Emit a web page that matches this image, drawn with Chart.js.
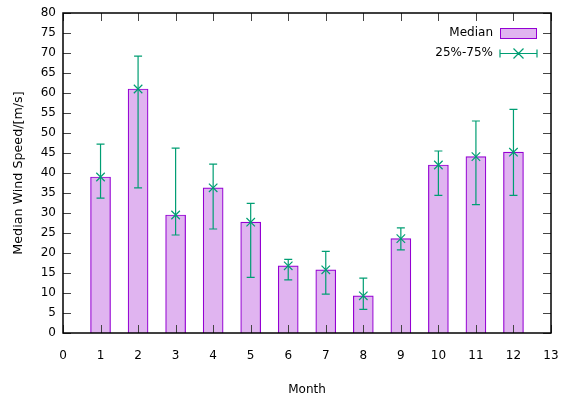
<!DOCTYPE html>
<html>
<head>
<meta charset="utf-8">
<script src="https://cdn.jsdelivr.net/npm/chart.js@4/dist/chart.umd.min.js"></script>
<style>
  html, body { margin: 0; padding: 0; background: #fff; }
  #wrap { width: 568px; height: 398px; }
</style>
</head>
<body>
<div id="wrap"><canvas id="graph" width="568" height="398"></canvas></div>
<script>
const months = [1, 2, 3, 4, 5, 6, 7, 8, 9, 10, 11, 12];
const median = [39, 61, 29.5, 36.3, 27.7, 16.8, 15.8, 9.3, 23.6, 42, 44.1, 45.2];
const q25 = [33.7, 36.3, 24.5, 26, 13.9, 13.3, 9.7, 5.9, 20.8, 34.4, 32.1, 34.4];
const q75 = [47.2, 69.2, 46.2, 42.2, 32.4, 18.4, 20.4, 13.7, 26.3, 45.5, 53, 55.9];
const yTicks = [0, 5, 10, 15, 20, 25, 30, 35, 40, 45, 50, 55, 60, 65, 70, 75, 80];

style = {
  barFill: '#e0b4f0',
  barLine: '#9400d3',
  err: '#009e73',
  axis: '#000000',
  font: "'DejaVu Sans', sans-serif"
}

// gnuplot-like frame: inward ticks on all four sides, error bars, legend
const frame = {
  id: 'frame',
  afterDatasetsDraw(chart) {
    const { ctx, chartArea: a, scales: { x, y } } = chart;
    ctx.save();

    // error bars
    ctx.strokeStyle = style.err;
    ctx.lineWidth = 1.2;
    for (let i = 0; i < months.length; i++) {
      const px = x.getPixelForValue(months[i]);
      const lo = y.getPixelForValue(q25[i]);
      const hi = y.getPixelForValue(q75[i]);
      ctx.beginPath();
      ctx.moveTo(px, lo); ctx.lineTo(px, hi);
      ctx.moveTo(px - 4, lo); ctx.lineTo(px + 4, lo);
      ctx.moveTo(px - 4, hi); ctx.lineTo(px + 4, hi);
      ctx.stroke();
    }

    // ticks
    ctx.strokeStyle = '#444';
    ctx.lineWidth = 1;
    x.ticks.forEach(t => {
      const px = Math.round(x.getPixelForValue(t.value)) + 0.5;
      ctx.beginPath();
      ctx.moveTo(px, a.bottom); ctx.lineTo(px, a.bottom - 8);
      ctx.moveTo(px, a.top); ctx.lineTo(px, a.top + 8);
      ctx.stroke();
    });
    y.ticks.forEach(t => {
      const py = Math.round(y.getPixelForValue(t.value)) + 0.5;
      ctx.beginPath();
      ctx.moveTo(a.left, py); ctx.lineTo(a.left + 8, py);
      ctx.moveTo(a.right, py); ctx.lineTo(a.right - 8, py);
      ctx.stroke();
    });

    // border
    ctx.strokeStyle = style.axis;
    ctx.lineWidth = 1.5;
    ctx.strokeRect(a.left, a.top, a.right - a.left, a.bottom - a.top);

    // legend
    ctx.font = '12px ' + style.font;
    ctx.fillStyle = '#000';
    ctx.textAlign = 'right';
    ctx.textBaseline = 'middle';
    const lx = a.right - 51, rx = a.right - 14;
    ctx.fillText('Median', lx - 7, a.top + 20);
    ctx.fillText('25%-75%', lx - 7, a.top + 40);
    ctx.fillStyle = style.barFill;
    ctx.fillRect(lx, a.top + 15, rx - lx, 11);
    ctx.strokeStyle = style.barLine;
    ctx.lineWidth = 1;
    ctx.strokeRect(lx + 0.5, a.top + 15.5, rx - lx - 1, 10);
    ctx.strokeStyle = style.err;
    ctx.lineWidth = 1.2;
    const ly = a.top + 40.5, cx = (lx + rx) / 2;
    ctx.beginPath();
    ctx.moveTo(lx, ly); ctx.lineTo(rx, ly);
    ctx.moveTo(lx, ly - 4); ctx.lineTo(lx, ly + 4);
    ctx.moveTo(rx, ly - 4); ctx.lineTo(rx, ly + 4);
    ctx.moveTo(cx - 5, ly - 5); ctx.lineTo(cx + 5, ly + 5);
    ctx.moveTo(cx - 5, ly + 5); ctx.lineTo(cx + 5, ly - 5);
    ctx.stroke();
    ctx.restore();
  }
};

const config = {
  data: {
    datasets: [{
      type: 'scatter',
      label: '25%-75%',
      data: months.map((m, i) => ({ x: m, y: median[i] })),
      pointStyle: 'crossRot',
      radius: 6,
      borderColor: style.err,
      borderWidth: 1.2,
      order: 0
    }, {
      type: 'bar',
      label: 'Median',
      data: months.map((m, i) => ({ x: m, y: median[i] })),
      backgroundColor: style.barFill,
      borderColor: style.barLine,
      borderWidth: 1.2,
      barThickness: 20,
      order: 1
    }]
  },
  options: {
    responsive: false,
    animation: false,
    layout: { padding: { top: 13, right: 17, bottom: 0, left: 0 } },
    plugins: { legend: { display: false }, tooltip: { enabled: false } },
    scales: {
      x: {
        type: 'linear',
        offset: false,
        min: 0, max: 13,
        grid: { display: false, drawTicks: false, offset: false },
        border: { display: false },
        ticks: { stepSize: 1, padding: 16, maxRotation: 0, color: '#000', font: { family: style.font, size: 12 } },
        title: { display: true, text: 'Month', color: '#000', padding: { top: 4, bottom: 1 }, font: { family: style.font, size: 12 } },
        afterFit: s => { s.height = 65; s.paddingRight = 0; s.paddingLeft = 0; }
      },
      y: {
        min: 0, max: 80,
        afterBuildTicks: s => { s.ticks = yTicks.map(v => ({ value: v })); },
        grid: { display: false, drawTicks: false },
        border: { display: false },
        ticks: { padding: 7, color: '#000', font: { family: style.font, size: 12 } },
        title: { display: true, text: 'Median Wind Speed/[m/s]', color: '#000', padding: { top: 11, bottom: 0 }, font: { family: style.font, size: 12.7 } },
        afterFit: s => { s.width = 63; s.paddingTop = 0; s.paddingBottom = 0; }
      }
    }
  },
  plugins: [frame]
};

graph = new Chart(document.getElementById('graph'), config);
</script>
</body>
</html>
